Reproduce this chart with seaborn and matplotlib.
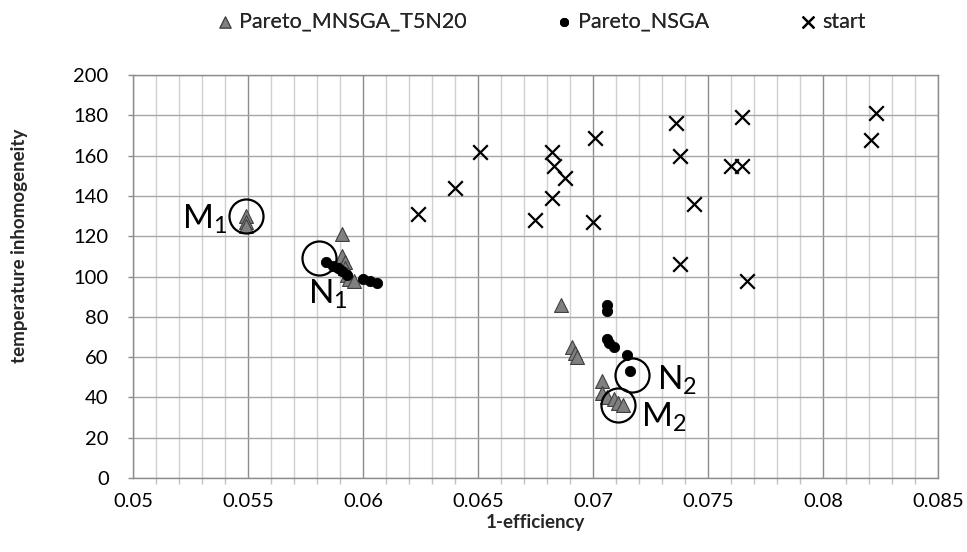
import matplotlib
matplotlib.use('Agg')
import matplotlib.pyplot as plt
import seaborn as sns
from matplotlib.ticker import MultipleLocator

# ---- data ----
mnsga_x = [0.0549, 0.0549, 0.0549, 0.0591, 0.0591, 0.0592, 0.0592, 0.0593, 0.0594, 0.0596,
           0.0686, 0.0691, 0.0692, 0.0693, 0.0704, 0.0704, 0.0706, 0.0709, 0.0711, 0.0713]
mnsga_y = [130, 127, 125, 121, 110, 107, 104, 101, 99, 98,
           86, 65, 62, 60, 48, 42, 40, 39, 37, 36]

nsga_x = [0.0584, 0.0587, 0.0589, 0.0591, 0.0593, 0.0600, 0.0603, 0.0606,
          0.0706, 0.0706, 0.0706, 0.0707, 0.0709, 0.0715, 0.0716]
nsga_y = [107, 105, 104, 103, 101, 99, 98, 97,
          86, 83, 69, 67, 65, 61, 53]

start_x = [0.0624, 0.0640, 0.0651, 0.0675, 0.0682, 0.0683, 0.0688, 0.0682, 0.0701, 0.0700,
           0.0736, 0.0738, 0.0744, 0.0738, 0.0760, 0.0765, 0.0767, 0.0765, 0.0823, 0.0821]
start_y = [131, 144, 162, 128, 162, 155, 149, 139, 169, 127,
           176, 160, 136, 106, 155, 155, 98, 179, 181, 168]

series_names = ['Pareto_MNSGA_T5N20', 'Pareto_NSGA', 'start']

# highlighted solutions (circles + labels)
circle_x = [0.0549, 0.0581, 0.0717, 0.0711]
circle_y = [130, 109, 51, 36]
label_texts = [r'M$_1$', r'N$_1$', r'N$_2$', r'M$_2$']
label_x = [0.05409, 0.05761, 0.07278, 0.07209]
label_y = [123.6, 86.4, 43.7, 25.3]
label_ha = ['right', 'left', 'left', 'left']

xticks = [0.05, 0.055, 0.06, 0.065, 0.07, 0.075, 0.08, 0.085]
xtick_labels = ['0.05', '0.055', '0.06', '0.065', '0.07', '0.075', '0.08', '0.085']

# ---- style ----
sns.set_theme(style='white')
plt.rcParams['font.family'] = ['Lato', 'DejaVu Sans']
plt.rcParams['mathtext.fontset'] = 'custom'
plt.rcParams['mathtext.rm'] = 'Lato'
plt.rcParams['mathtext.it'] = 'Lato'
plt.rcParams['mathtext.bf'] = 'Lato:bold'

fig = plt.figure(figsize=(9.67, 5.52), dpi=100)
ax = fig.add_axes([0.1375, 0.134, 0.8325, 0.730])

sns.scatterplot(x=mnsga_x, y=mnsga_y, marker='^', s=100, color='#808080',
                edgecolor='#404040', linewidth=0.8, ax=ax, label=series_names[0], zorder=3)
sns.scatterplot(x=nsga_x, y=nsga_y, marker='o', s=55, color='black',
                edgecolor='black', ax=ax, label=series_names[1], zorder=4)
sns.scatterplot(x=start_x, y=start_y, marker='x', s=110, color='black',
                linewidth=1.6, ax=ax, label=series_names[2], zorder=5)

for cx, cy in zip(circle_x, circle_y):
    ax.plot([cx], [cy], marker='o', markersize=24.5, markerfacecolor='none',
            markeredgecolor='black', markeredgewidth=1.6, linestyle='none', zorder=6)
for tx, ty, t, ha in zip(label_x, label_y, label_texts, label_ha):
    ax.text(tx, ty, t, fontsize=24, ha=ha, va='baseline', color='black', zorder=7)

ax.set_xlim(0.05, 0.085)
ax.set_ylim(0, 200)
ax.set_xticks(xticks)
ax.set_xticklabels(xtick_labels)
ax.xaxis.set_minor_locator(MultipleLocator(0.001))
ax.yaxis.set_major_locator(MultipleLocator(20))

ax.grid(which='major', axis='x', color='#8c8c8c', linewidth=1.0)
ax.grid(which='minor', axis='x', color='#d0d0d0', linewidth=1.0)
ax.grid(which='major', axis='y', color='#a6a6a6', linewidth=1.0)
ax.set_axisbelow(True)

for sp in ax.spines.values():
    sp.set_color('#8c8c8c')
    sp.set_linewidth(1.0)

ax.tick_params(axis='both', which='major', labelsize=14.5, colors='#8c8c8c',
               labelcolor='black', width=1, direction='out')
ax.tick_params(axis='x', which='major', length=4, pad=7)
ax.tick_params(axis='y', which='major', length=3.5, pad=14, left=True)
ax.tick_params(axis='x', which='minor', colors='#c0c0c0', length=4, width=1,
               direction='out', bottom=True)

ax.set_xlabel('1-efficiency', fontsize=13.5, fontweight='bold', labelpad=3)
ax.set_ylabel('temperature inhomogeneity', fontsize=13.5, fontweight='bold')
ax.yaxis.set_label_coords(-0.130, 0.576)

handles, labels = ax.get_legend_handles_labels()
ax.legend_.remove()
legend_lefts = [0.225, 0.5755, 0.828]
for h, l, lx in zip(handles, labels, legend_lefts):
    lg = fig.legend([h], [l], loc='center left', bbox_to_anchor=(lx, 0.960),
                    frameon=False, fontsize=15.5, handlelength=0.7, handletextpad=0.3,
                    borderpad=0, borderaxespad=0, markerscale=0.8)
    fig.add_artist(lg)

fig.savefig('out.png', dpi=100, facecolor='white')
